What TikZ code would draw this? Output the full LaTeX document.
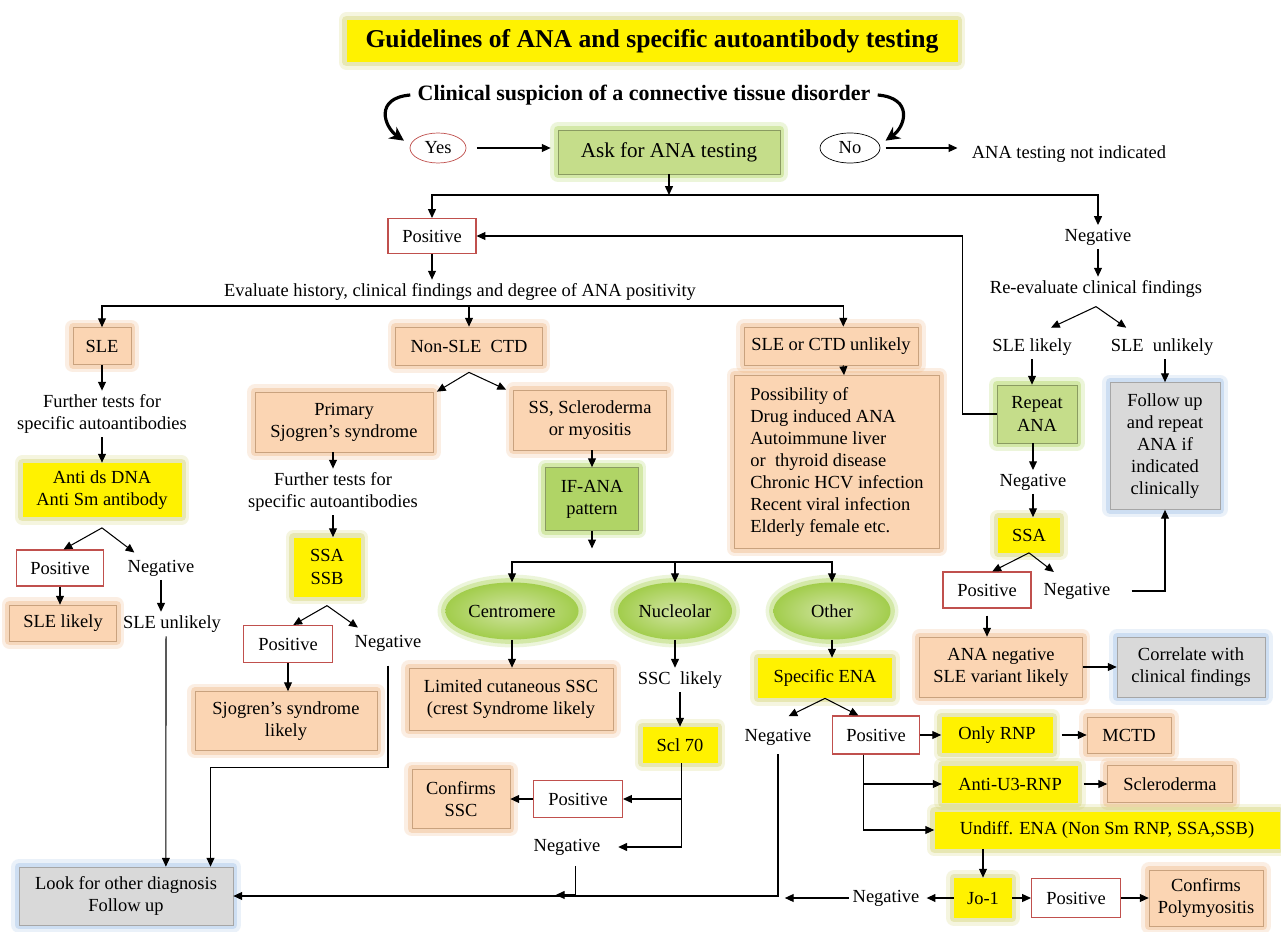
\documentclass[tikz,border=0pt]{standalone}
\usepackage{fontspec}
\setmainfont{Liberation Serif}
\usepackage{tikz}
\usetikzlibrary{arrows.meta,shapes.geometric}
\definecolor{peach}{HTML}{FBD5B3}
\definecolor{peachedge}{HTML}{C9A27E}
\definecolor{peachglow}{HTML}{EDA667}
\definecolor{ylwglow}{HTML}{C8C850}
\definecolor{lgreen}{HTML}{C5DD8A}
\definecolor{mgreen}{HTML}{B0D466}
\definecolor{dgreen}{HTML}{A2CD4C}
\definecolor{greenglow}{HTML}{9ACD32}
\definecolor{lgray}{HTML}{D9D9D9}
\definecolor{blueglow}{HTML}{8DB4E2}
\definecolor{redline}{HTML}{C0504D}

\begin{document}
\begin{tikzpicture}[x=0.02cm,y=-0.02cm,
	sz/.style 2 args={minimum width=#1*0.02cm,minimum height=#2*0.02cm},
	txt/.style={font=\fontsize{10.5}{12.6}\selectfont,align=center,inner sep=2pt},
	glow/.style={preaction={draw=#1,line width=9pt,opacity=0.18,line join=round},preaction={draw=#1,line width=5pt,opacity=0.3,line join=round}},
	orbox/.style={txt,fill=peach,draw=peachedge,line width=0.4pt,glow=peachglow},
	ylbox/.style={txt,fill=yellow,glow=ylwglow},
	grbox/.style={txt,fill=lgreen,draw=lgreen!70!black,line width=0.4pt,glow=greenglow},
	gybox/.style={txt,fill=lgray,draw=gray!70,line width=0.4pt,glow=blueglow},
	rdbox/.style={txt,fill=white,draw=redline,line width=0.6pt},
	oval/.style={txt,ellipse,inner color=lgreen!80!white,outer color=dgreen,glow=greenglow},
	arr/.style={-{Triangle[length=5pt,width=4.5pt]},line width=0.6pt},
	curvy/.style={-{Stealth[length=8pt,width=8pt]},line width=1.8pt}]
	\fill[white] (0,0) rectangle (1281,932);
	\useasboundingbox (0,0) rectangle (1281,932);

	\node[ylbox,sz={611}{42},font=\fontsize{14.6}{16}\selectfont\bfseries] (title) at (652,41) {Guidelines of ANA and specific autoantibody testing};
	\node[font=\fontsize{12.5}{14}\selectfont\bfseries,inner sep=2pt] (clin) at (644,95) {Clinical suspicion of a connective tissue disorder};
	\node[txt,ellipse,draw=redline,sz={56}{30}] (yes) at (438,148) {Yes};
	\node[grbox,sz={222}{44},font=\fontsize{12}{14}\selectfont] (ask) at (669,152) {Ask for ANA testing};
	\node[txt,ellipse,draw,sz={60}{30}] (no) at (850,148) {No};
	\node[txt,anchor=west] (notind) at (968,154) {ANA testing not indicated};

	\draw[curvy] ([xshift=-2pt]clin.west) .. controls +(-36,3) and +(-20,-14) .. ([xshift=-8pt,yshift=-2pt]yes.north west);
	\draw[curvy] ([xshift=2pt]clin.east) .. controls +(36,3) and +(20,-14) .. ([xshift=8pt,yshift=-2pt]no.north east);
	\draw[arr,shorten <=6pt,shorten >=4pt] (yes) -- (yes -| ask.west);
	\draw[arr,shorten <=3pt,shorten >=6pt] (no) -- (no -| notind.west);

	\node[rdbox,sz={88}{35}] (pos) at (432,236) {Positive};
	\node[txt] (neg) at (1098,237) {Negative};
	\node[txt] (eval) at (460,292) {Evaluate history, clinical findings and degree of ANA positivity};
	\coordinate (split) at (669,195);
	\draw[arr] (ask) -- (split);
	\draw[arr] (split) -| (pos);
	\draw[arr] (split) -| (neg);
	\draw[arr] (pos) -- (pos |- eval.north);

	\node[orbox,sz={58}{37}] (sle) at (102,346) {SLE};
	\node[orbox,sz={147}{38}] (nonsle) at (469,346) {Non-SLE~~CTD};
	\node[orbox,sz={174}{38}] (unlik) at (831,346) {SLE or CTD unlikely};
	\node[orbox,sz={205}{173},align=left] (possib) at (837,462) {Possibility of\\Drug induced ANA\\Autoimmune liver\\or~~thyroid disease\\Chronic HCV infection\\Recent viral infection\\Elderly female etc.};
	\coordinate (evl) at (469,306);
	\draw[arr] (evl) -| (sle);
	\draw[arr] (evl) -- (nonsle);
	\draw[arr] (evl) -| ([xshift=7pt]unlik.north);
	\draw[arr] ([xshift=7pt]unlik.south) -- ([xshift=4pt]possib.north);

	\node[txt] (fur1) at (102,414) {Further tests for\\specific autoantibodies};
	\node[ylbox,sz={159}{54}] (antids) at (102,490) {Anti ds DNA\\Anti Sm antibody};
	\node[rdbox,sz={87}{36}] (posA) at (60,568) {Positive};
	\node[txt] (negA) at (161,568) {Negative};
	\node[orbox,sz={107}{36}] (slelik) at (63,623) {SLE likely};
	\node[txt] (sleunl) at (172,624) {SLE unlikely};
	\node[gybox,sz={214}{58}] (look) at (126,896) {Look for other diagnosis\\Follow up};
	\draw[arr] (sle) -- (fur1);
	\draw[arr] (fur1) -- (antids);
	\coordinate (fkA) at ([yshift=-6pt]antids.south);
	\draw[arr] (fkA) -- ([xshift=2pt]posA.north);
	\draw[arr] (fkA) -- ([xshift=6pt,yshift=2pt]negA.north west);
	\draw[arr] (posA.south) -- (posA.south |- slelik.north);
	\draw[arr] (negA.south) -- (negA.south |- sleunl.north);
	\draw[arr] ([xshift=-3.4pt]sleunl.south) -- ([xshift=22.7pt]look.north);

	\node[orbox,sz={178}{60}] (prim) at (344,422) {Primary\\Sjogren’s syndrome};
	\node[txt] (fur2) at (333,492) {Further tests for\\specific autoantibodies};
	\node[ylbox,sz={67}{59}] (ssab) at (327,567) {SSA\\SSB};
	\node[rdbox,sz={89}{37}] (posB) at (288,644) {Positive};
	\node[txt] (negB) at (388,643) {Negative};
	\node[orbox,sz={182}{59}] (sjolik) at (286,721) {Sjogren’s syndrome\\likely};
	\draw[arr] (fur2 |- prim.south) -- (fur2);
	\draw[arr] (fur2) -- (fur2 |- ssab.north);
	\coordinate (fkB) at ([yshift=-5pt]ssab.south);
	\draw[arr] (fkB) -- ([xshift=3pt]posB.north);
	\draw[arr] (fkB) -- ([xshift=4pt,yshift=2pt]negB.north west);
	\draw[arr] (posB) -- (posB |- sjolik.north);
	\draw[arr,shorten <=6pt] (negB.south) -- ++(0,113) -| ([xshift=-13pt]look.north east);

	\node[orbox,sz={153}{60}] (ss) at (590,420) {SS, Scleroderma\\or myositis};
	\node[grbox,sz={93}{63},fill=mgreen] (ifana) at (592,499) {IF-ANA\\pattern};
	\coordinate (fkC) at ([yshift=-4pt]nonsle.south);
	\draw[arr] (fkC) -- ([xshift=2pt]prim.north east);
	\draw[arr] (fkC) -- ([xshift=-4pt]ss.north west);
	\draw[arr] (ifana |- ss.south) -- (ifana);
	\coordinate (ifend) at ([yshift=-10pt]ifana.south);
	\draw[arr] (ifana) -- (ifend);

	\node[oval,sz={115}{57}] (cent) at (512,611) {Centromere};
	\node[oval,sz={114}{57}] (nucl) at (675,611) {Nucleolar};
	\node[oval,sz={117}{57}] (other) at (832,611) {Other};
	\coordinate (patt) at (675,562);
	\draw[arr] (patt) -| (cent);
	\draw[arr] (patt) -| (other);
	\draw[arr] (patt) -- (nucl);

	\node[orbox,sz={204}{62}] (lim) at (511,699) {Limited cutaneous SSC\\(crest Syndrome likely};
	\node[txt] (ssclik) at (680,680) {SSC~~likely};
	\node[ylbox,sz={75}{36}] (scl) at (680,745) {Scl 70};
	\node[ylbox,sz={134}{40}] (specena) at (825,678) {Specific ENA};
	\draw[arr] (cent) -- (cent |- lim.north);
	\draw[arr] (nucl) -- (nucl |- ssclik.north);
	\draw[arr] (ssclik) -- (scl);
	\draw[arr] (other) -- (other |- specena.north);

	\node[rdbox,sz={89}{37}] (sclpos) at (578,799) {Positive};
	\node[orbox,sz={98}{59}] (confssc) at (461,799) {Confirms\\SSC};
	\node[txt] (sclneg) at (567,847) {Negative};
	\draw[arr] ([xshift=1pt]scl.south) |- (sclpos);
	\draw[arr,shorten >=8pt] ([xshift=1pt]scl.south) |- (sclneg);
	\draw[arr] (sclpos) -- (confssc);
	\draw[arr,shorten <=4pt] ([xshift=5pt]sclneg.south) -- ++(0,36) -- ++(-20,0);

	\node[txt] (enaneg) at (778,737) {Negative};
	\node[rdbox,sz={87}{38}] (enapos) at (876,735) {Positive};
	\draw[arr] (specena.south) -- ([xshift=6pt,yshift=5pt]enaneg.north);
	\draw[arr] (specena.south) -- ([xshift=-10pt]enapos.north);
	\draw[arr,shorten <=3pt] (enaneg.south) |- (look);

	\node[ylbox,sz={111}{36}] (onlyrnp) at (997,735) {Only RNP};
	\node[orbox,sz={84}{36}] (mctd) at (1129,735) {MCTD};
	\node[ylbox,sz={136}{37}] (antiu3) at (1010,784) {Anti-U3-RNP};
	\node[orbox,sz={125}{37}] (sclero) at (1170,784) {Scleroderma};
	\node[ylbox,sz={345}{37}] (undiff) at (1107,830) {Undiff. ENA (Non Sm RNP, SSA,SSB)};
	\node[ylbox,sz={58}{40}] (jo1) at (983,898) {Jo-1};
	\node[rdbox,sz={89}{39}] (jopos) at (1076,898) {Positive};
	\node[orbox,sz={114}{56}] (poly) at (1206,898) {Confirms\\Polymyositis};
	\node[txt] (joneg) at (886,898) {Negative};
	\draw[arr] (enapos) -- (onlyrnp);
	\draw[arr,shorten <=5pt] (onlyrnp) -- (mctd);
	\draw[arr] ([xshift=-7pt]enapos.south) |- (antiu3);
	\draw[arr] ([xshift=-7pt]enapos.south) |- (undiff);
	\draw[arr,shorten <=3pt] (antiu3) -- (sclero);
	\draw[arr] (jo1 |- undiff.south) -- (jo1);
	\draw[arr] (jo1) -- (jopos);
	\draw[arr] (jopos) -- (poly);
	\draw[arr,shorten >=2pt] (jo1) -- (joneg);
	\draw[arr] (joneg.west) -- ++(-64,0);

	\node[txt] (reeval) at (1096,289) {Re-evaluate clinical findings};
	\node[txt] (slelikR) at (1032,347) {SLE likely};
	\node[txt] (sleunlR) at (1162,347) {SLE~~unlikely};
	\node[grbox,sz={80}{58}] (repeat) at (1037,414) {Repeat\\ANA};
	\node[gybox,sz={110}{127}] (follow) at (1165,446) {Follow up\\and repeat\\ANA if\\indicated\\clinically};
	\node[txt] (negR) at (1033,482) {Negative};
	\node[ylbox,sz={62}{35}] (ssa) at (1029,535) {SSA};
	\node[rdbox,sz={88}{36}] (ssapos) at (987,590) {Positive};
	\node[txt] (ssaneg) at (1077,591) {Negative};
	\node[orbox,sz={163}{60}] (ananeg) at (1001,667) {ANA negative\\SLE variant likely};
	\node[gybox,sz={148}{60}] (correl) at (1191,667) {Correlate with\\clinical findings};
	\draw[arr] (neg) -- (neg |- reeval.north);
	\coordinate (fkE) at ([yshift=-3pt]reeval.south);
	\draw[arr] (fkE) -- ([xshift=-14pt,yshift=4pt]slelikR.north east);
	\draw[arr] (fkE) -- ([xshift=11pt,yshift=4pt]sleunlR.north west);
	\draw[arr] (slelikR) -- (slelikR |- repeat.north);
	\draw[arr] (follow |- sleunlR.south) -- (follow);
	\draw[arr] (repeat.west) -- ++(-34,0) |- (pos.east);
	\draw[arr] (negR |- repeat.south) -- (negR);
	\draw[arr] (negR) -- (negR |- ssa.north);
	\draw[arr] (ssa.south) -- ([xshift=3pt]ssapos.north);
	\draw[arr] (ssa.south) -- ([xshift=8pt,yshift=4pt]ssaneg.north west);
	\draw[arr] ([xshift=10pt]ssaneg.east) -| (follow);
	\draw[arr,shorten <=4pt] (ssapos) -- (ssapos |- ananeg.north);
	\draw[arr] (ananeg) -- (correl);
\end{tikzpicture}
\end{document}
